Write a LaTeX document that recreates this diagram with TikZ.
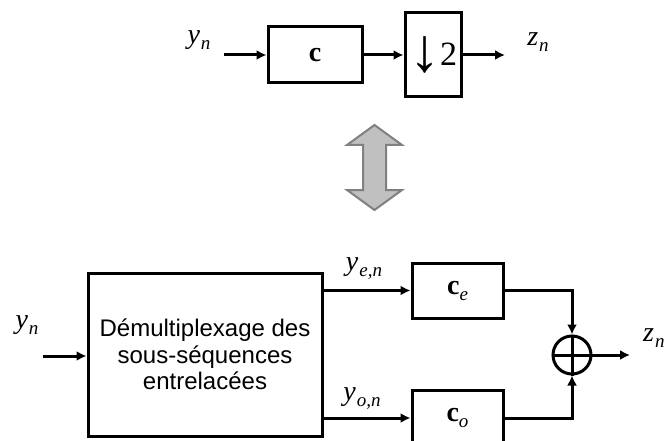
\RequirePackage{fix-cm}
\documentclass[tikz,border=0pt]{standalone}
\usepackage[no-math]{fontspec}
\usepackage{amsmath}
\usepackage{tikz}
\usetikzlibrary{arrows.meta,positioning,calc}
\newfontfamily\boxfont{Liberation Sans}
\newfontfamily\labserif{Liberation Serif}
\definecolor{ArrowFill}{RGB}{192,192,192}
\definecolor{ArrowEdge}{RGB}{128,128,128}
\newcommand{\labfont}{\labserif\fontsize{28}{28}\selectfont}
\newcommand{\subfont}{\labserif\itshape\fontsize{19}{19}\selectfont}
\newcommand{\signame}[2]{{\itshape #1}\kern1pt\raisebox{-6pt}{\subfont #2}}
\newcommand{\coef}[1]{{\bfseries c}\raisebox{-6pt}{\subfont #1}}
\tikzset{
  blk/.style={draw, line width=3pt, inner sep=0pt, font=\labfont},
  sig/.style={-{Latex[length=10pt,width=10pt]}, line width=3pt},
  lab/.style={inner sep=0pt, font=\labfont},
}

\begin{document}
\begin{tikzpicture}[x=1pt,y=-1pt]
        \useasboundingbox (0,0) rectangle (672,441);
        % top chain
        \node[blk, minimum width=94pt, minimum height=56pt] (c) at (315,55) {\bfseries c};
        \node[blk, minimum width=56pt, minimum height=84pt] (dec) at (433,55)
          {\fontsize{62}{62}\selectfont\raisebox{-6pt}{↓}\fontsize{34}{34}\selectfont 2};
        \coordinate (yin) at (224,55);
        \coordinate (zout) at (505,55);
        \draw[sig] (yin) -- (c);
        \draw[sig] (c) -- (dec);
        \draw[sig] (dec) -- (zout);
        \node[lab] (yn) at (199,40) {\signame{y}{n}};
        \node[lab] (zn) at (538,42) {\signame{z}{n}};
        % equivalence arrow
        \filldraw[fill=ArrowFill, draw=ArrowEdge, line width=2pt, line join=miter]
          (374.5,125) -- (402,145) -- (386,145) -- (386,190) -- (402,190) -- (374.5,210)
          -- (347,190) -- (363,190) -- (363,145) -- (347,145) -- cycle;
        % polyphase form
        \node[blk, minimum width=234pt, minimum height=163pt, align=center,
          font={\boxfont\fontsize{24}{26.5}\selectfont}] (demux) at (205,354.5)
          {D\'emultiplexage des\\sous-s\'equences\\entrelac\'ees};
        \node[blk, minimum width=91pt, minimum height=55pt] (ce) at (457.5,290.5) {\coef{e}};
        \node[blk, minimum width=91pt, minimum height=56pt] (co) at (457.5,418) {\coef{o}};
        \node[draw, circle, line width=3pt, minimum size=38pt, inner sep=0pt] (sum) at (572,355) {};
        \draw[line width=3pt] (sum.north) -- (sum.south) (sum.west) -- (sum.east);
        \coordinate (yin2) at (43,356);
        \coordinate (zout2) at (630,355);
        \draw[sig] (yin2) -- (yin2 -| demux.west);
        \draw[sig] (ce.west -| demux.east) -- (ce.west);
        \draw[sig] (co.west -| demux.east) -- (co.west);
        \draw[sig] (ce.east) -| (sum.north);
        \draw[sig] (co.east) -| (sum.south);
        \draw[sig] (sum.east) -- (zout2);
        \node[lab] (yn2) at (27,325) {\signame{y}{n}};
        \node[lab] (yen) at (364,269) {\signame{y}{e,n}};
        \node[lab] (yon) at (362,399) {\signame{y}{o,n}};
        \node[lab, anchor=west] (zn2) at (643,338) {\signame{z}{n}};
      \end{tikzpicture}
\end{document}
